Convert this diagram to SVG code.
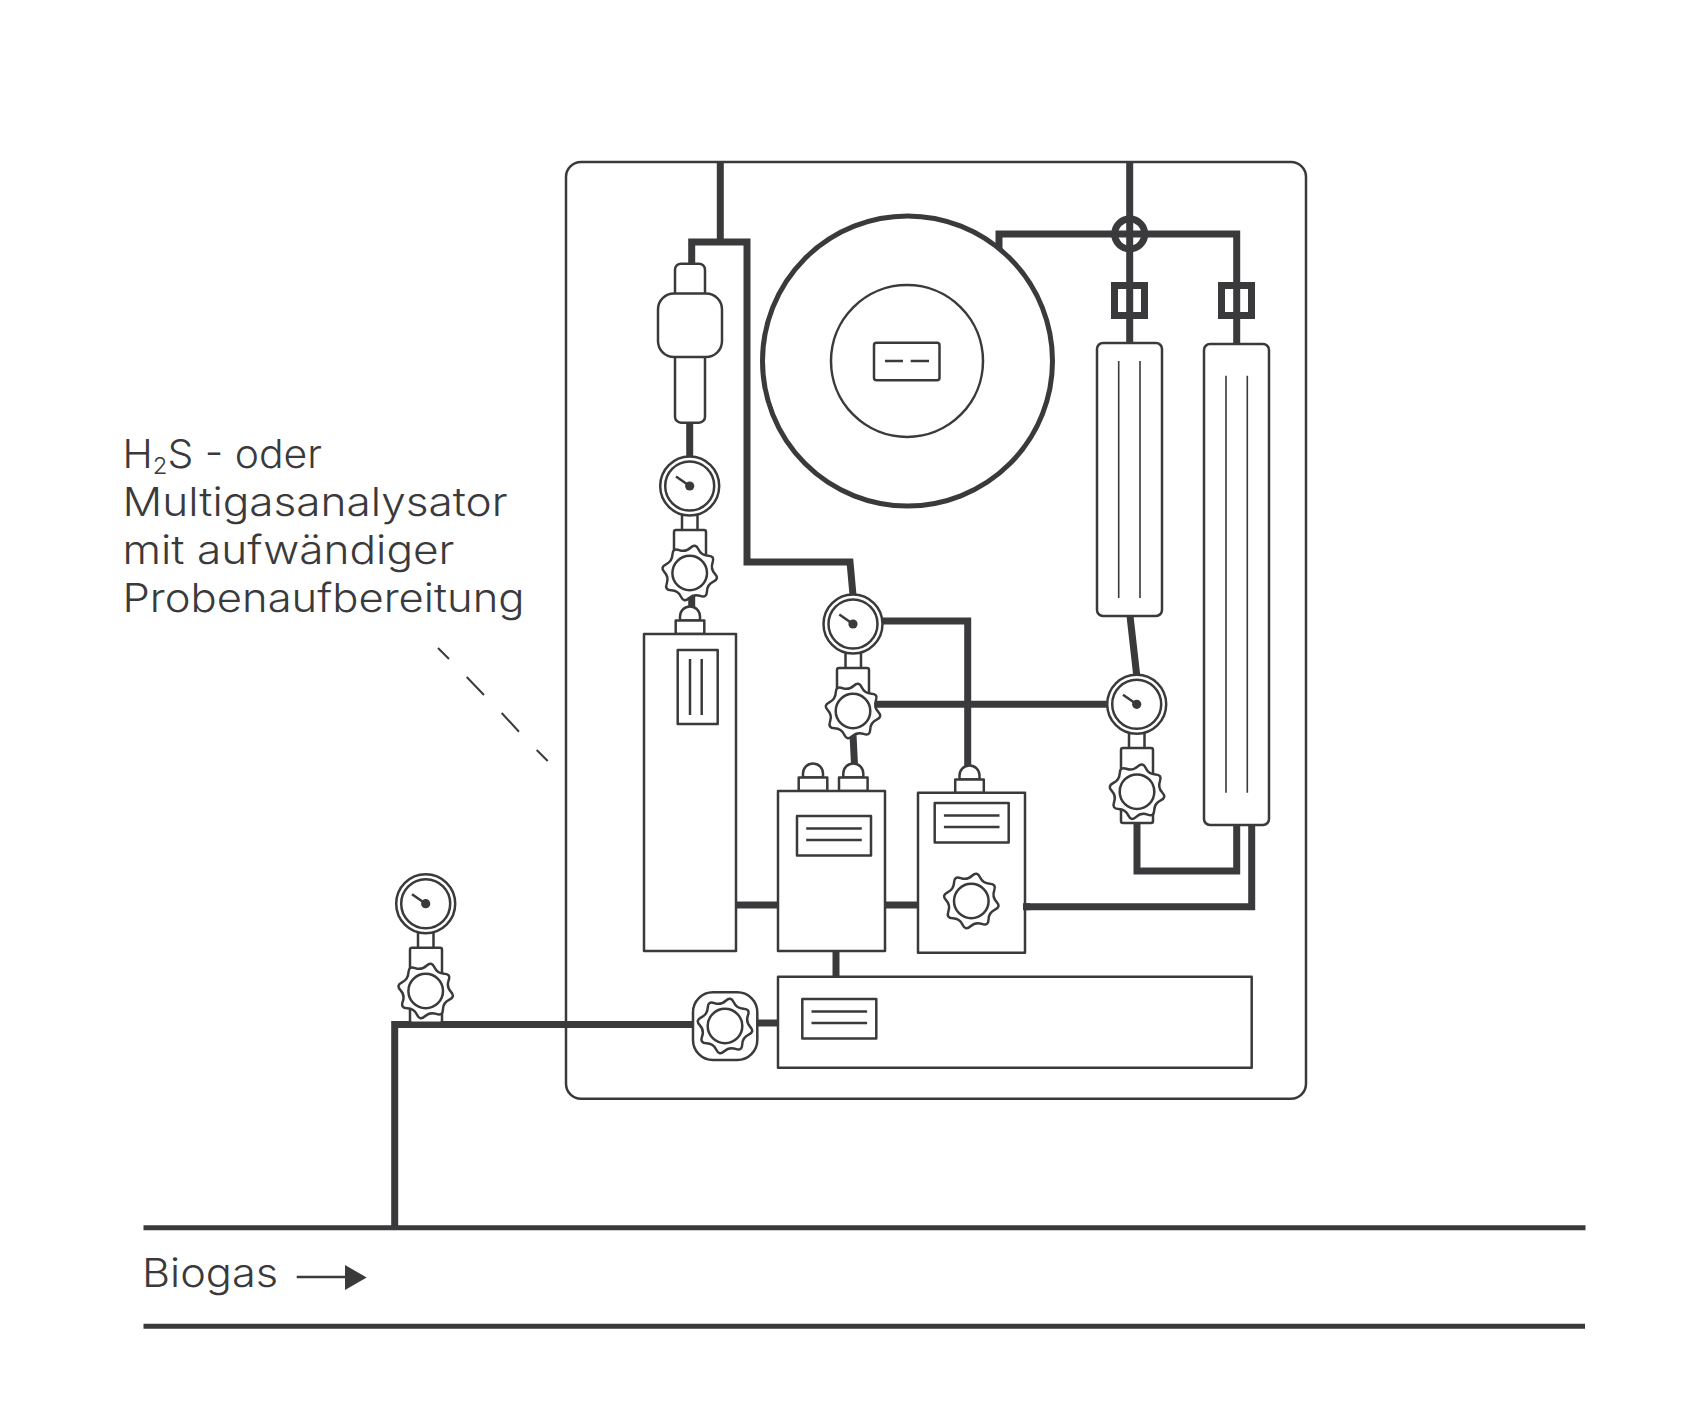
<svg xmlns="http://www.w3.org/2000/svg" width="1701" height="1418" viewBox="0 0 1701 1418">
<style>
.o{fill:#fff;stroke:#3a3a3c;stroke-width:2.5;stroke-linejoin:round}
.n{fill:none;stroke:#3a3a3c;stroke-width:2.5}
.t{fill:none;stroke:#3a3a3c;stroke-width:1.6}
.p{fill:none;stroke:#3a3a3c;stroke-width:7;stroke-linejoin:miter}
.l{fill:none;stroke:#3a3a3c;stroke-width:5}
.x{font-family:"Inter","Liberation Sans",sans-serif;font-weight:350;font-size:39.5px;fill:#3a3a3c}
</style>
<defs>
<g id="gauge">
<circle class="o" r="29.5"/>
<circle class="o" r="24.5"/>
<path class="n" d="M0 0L-13.7 -9.5"/>
<circle r="4.6" fill="#3a3a3c"/>
</g>
<g id="gear">
<path class="o" d="M0.8 -25.25Q5.8 -29.9 8.7 -23.7Q11.6 -17.5 18.45 -17.25Q25.3 -17 22.95 -10.6Q20.6 -4.2 25.25 0.8Q29.9 5.8 23.7 8.7Q17.5 11.6 17.25 18.45Q17 25.3 10.6 22.95Q4.2 20.6 -0.8 25.25Q-5.8 29.9 -8.7 23.7Q-11.6 17.5 -18.45 17.25Q-25.3 17 -22.95 10.6Q-20.6 4.2 -25.25 -0.8Q-29.9 -5.8 -23.7 -8.7Q-17.5 -11.6 -17.25 -18.45Q-17 -25.3 -10.6 -22.95Q-4.2 -20.6 0.8 -25.25Z"/>
<circle class="o" r="17.3"/>
</g>
<g id="cap">
<path class="o" d="M-10 14V10A10 10 0 0 1 10 10V14Z"/>
<rect class="o" x="-14.3" y="14" width="28.6" height="13.5"/>
</g>
<g id="lines">
<rect class="o" x="-37" y="-19.5" width="74" height="39.5"/>
<path class="n" d="M-27.8 -7H27.8M-27.8 4.5H27.8"/>
</g>
</defs>

<rect id="panel" class="o" x="566" y="162" width="740" height="936.7" rx="15"/>

<g id="connectors">
<path class="p" d="M720.3 162V242"/>
<path class="p" d="M691.7 264V242H747V562H850L853 595"/>
<path class="p" d="M689.7 423V457"/>
<path class="p" d="M691.7 596V609"/>
<path class="p" d="M883 621H967.7V766"/>
<path class="p" d="M870 704.3H1108"/>
<path class="p" d="M853 734L854.5 765"/>
<path class="p" d="M1130 616L1136.7 675"/>
<path class="p" d="M1137 823V871H1236.7V825"/>
<path class="p" d="M1251.7 825V906.7H1023"/>
<path class="p" d="M736 905H778M885 905H918"/>
<path class="p" d="M836 952V977"/>
<path class="p" d="M394.7 1228V1024.5H693"/>
<path class="p" d="M757 1023H778"/>
<path class="p" d="M1129.7 162V343"/>
<path class="p" d="M999 250V234H1236.7V344"/>
<circle class="p" cx="1129.7" cy="234" r="15"/>
<rect class="p" x="1114.5" y="285.5" width="30" height="30"/>
<rect class="p" x="1221.5" y="285.5" width="30" height="30"/>
</g>

<g id="pipe-lines">
<path class="l" d="M143.5 1227.7H1585.5"/>
<path class="l" d="M143.5 1326.3H1585"/>
</g>

<g id="tank">
<circle cx="907.5" cy="361" r="145" fill="#fff" stroke="#3a3a3c" stroke-width="5"/>
<circle class="o" cx="907" cy="361" r="76"/>
<rect class="o" x="874" y="342.7" width="65.5" height="37.5" rx="2.5"/>
<path class="n" d="M885 361H903M910.7 361H929"/>
</g>

<g id="filter">
<rect class="o" x="675" y="263.7" width="30" height="40" rx="6"/>
<rect class="o" x="675" y="340" width="30" height="82.7" rx="6"/>
<rect class="o" x="658" y="293.5" width="64" height="63.5" rx="16"/>
</g>

<g id="column-1">
<rect class="o" x="1097" y="343" width="65" height="273" rx="6"/>
<path class="t" d="M1118.7 361V598M1140 361V598"/>
</g>
<g id="column-2">
<rect class="o" x="1204" y="344" width="65" height="481" rx="6"/>
<path class="t" d="M1226 375.7V792.7M1247.3 375.7V792.7"/>
</g>

<g id="gauge-left">
<rect class="o" x="682" y="510" width="15.5" height="22"/>
<rect class="o" x="674" y="530" width="32" height="30" rx="2"/>
<use href="#gauge" x="689.7" y="486"/>
<use href="#gear" x="689.7" y="573"/>
</g>

<g id="analyser-box">
<use href="#cap" x="690" y="606.5"/>
<rect class="o" x="644" y="634" width="92" height="317"/>
<rect class="o" x="677.7" y="650" width="40" height="74"/>
<path class="n" d="M690 659V715M701.7 659V715"/>
</g>

<g id="gauge-center">
<rect class="o" x="845.5" y="648" width="15.5" height="22"/>
<rect class="o" x="837" y="668" width="32" height="30" rx="2"/>
<use href="#gauge" x="853" y="624"/>
<use href="#gear" x="853" y="711"/>
</g>

<g id="box-2">
<use href="#cap" x="813" y="763.5"/>
<use href="#cap" x="853.3" y="763.5"/>
<rect class="o" x="778" y="791" width="107" height="160"/>
<use href="#lines" x="834" y="835.5"/>
</g>

<g id="box-3">
<use href="#cap" x="969.5" y="765.5"/>
<rect class="o" x="918" y="792.7" width="107" height="160"/>
<use href="#lines" x="971.7" y="822.5"/>
<use href="#gear" x="971.3" y="901"/>
</g>

<g id="gauge-right">
<rect class="o" x="1129" y="728" width="15.5" height="22"/>
<rect class="o" x="1121" y="748" width="32" height="75" rx="2"/>
<use href="#gauge" x="1136.7" y="704.3"/>
<use href="#gear" x="1137" y="791.7"/>
</g>

<g id="pump">
<rect class="o" x="693" y="992.3" width="64.3" height="67.7" rx="20"/>
<use href="#gear" x="725" y="1026"/>
</g>

<g id="box-bottom">
<rect class="o" x="778" y="976.7" width="473.7" height="91"/>
<use href="#lines" x="839.3" y="1018.5"/>
</g>

<g id="gauge-outside">
<rect class="o" x="418" y="928" width="15.5" height="22"/>
<rect class="o" x="410" y="947.7" width="32" height="75" rx="2"/>
<use href="#gauge" x="425.7" y="903.7"/>
<use href="#gear" x="425.7" y="991"/>
</g>

<g id="connectors-top">
<path class="p" d="M1023 906.7H1030"/>
</g>

<g id="leader">
<path d="M438 648L449 659M466.7 677L484 695M501.7 713L519 731.7M536.7 750L547.7 761" fill="none" stroke="#3a3a3c" stroke-width="2"/>
</g>

<g id="label-analyser">
<text class="x" x="122.5" y="468" textLength="199.5" lengthAdjust="spacingAndGlyphs">H<tspan font-size="23" dy="6">2</tspan><tspan dy="-6">S - oder</tspan></text>
<text class="x" x="122.5" y="516" textLength="385" lengthAdjust="spacingAndGlyphs">Multigasanalysator</text>
<text class="x" x="122.5" y="564" textLength="332" lengthAdjust="spacingAndGlyphs">mit aufwändiger</text>
<text class="x" x="122.5" y="612" textLength="402" lengthAdjust="spacingAndGlyphs">Probenaufbereitung</text>
</g>

<g id="label-biogas">
<text class="x" x="142" y="1286.7" textLength="136" lengthAdjust="spacingAndGlyphs">Biogas</text>
<path class="n" d="M296.7 1277H348"/>
<path d="M345 1265L366.7 1277.5L345 1290Z" fill="#3a3a3c"/>
</g>
</svg>
